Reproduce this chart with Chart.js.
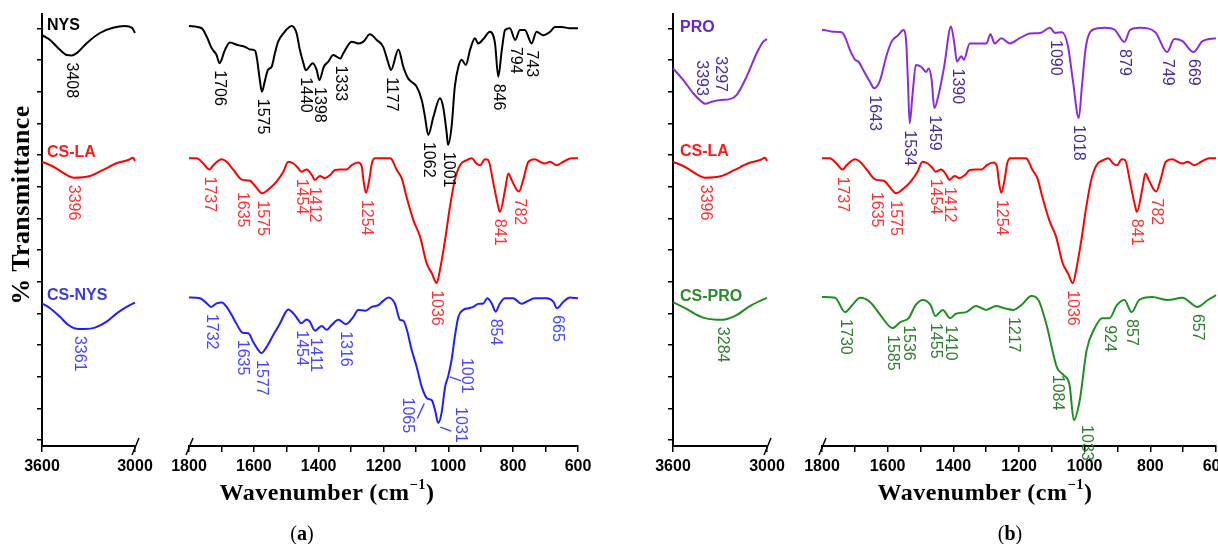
<!DOCTYPE html>
<html>
<head>
<meta charset="utf-8">
<script src="https://cdn.jsdelivr.net/npm/chart.js@4.4.1/dist/chart.umd.min.js"></script>
<style>
body { margin: 0; background: #fff; }
#page { position: relative; width: 1218px; height: 544px; overflow: hidden; font-family: "Liberation Sans", Arial, sans-serif; }
canvas { position: absolute; top: 0; }
.name { position: absolute; font-weight: bold; font-size: 16px; line-height: 1; white-space: nowrap; }
.serif { position: absolute; font-family: "Liberation Serif", "DejaVu Serif", serif; font-weight: bold; white-space: nowrap; line-height: 1; transform: translate(-50%, -50%); }
.serif sup { font-size: 0.6em; position: relative; top: -0.15em; }
</style>
</head>
<body>
<div id="page">
  <canvas id="aL" width="160" height="480" style="left:0px"></canvas>
  <canvas id="aR" width="450" height="480" style="left:160px"></canvas>
  <canvas id="bL" width="160" height="480" style="left:630px"></canvas>
  <canvas id="bR" width="445" height="480" style="left:790px"></canvas>

  <div class="name" style="left:47px;top:17px;color:#000">NYS</div>
  <div class="name" style="left:47px;top:144px;color:#ff1a1a">CS-LA</div>
  <div class="name" style="left:47px;top:287px;color:#3c3cd8">CS-NYS</div>
  <div class="name" style="left:680px;top:19px;color:#6a24c8">PRO</div>
  <div class="name" style="left:680px;top:143px;color:#ff1a1a">CS-LA</div>
  <div class="name" style="left:680px;top:288px;color:#2a8a2a">CS-PRO</div>

  <div class="serif" style="left:21px;top:205px;font-size:26px;letter-spacing:0.4px;transform:translate(-50%,-50%) rotate(-90deg)">% Transmittance</div>
  <div class="serif" style="left:327px;top:491px;font-size:24px;letter-spacing:0.5px">Wavenumber (cm<sup>−1</sup>)</div>
  <div class="serif" style="left:985px;top:491px;font-size:24px;letter-spacing:0.5px">Wavenumber (cm<sup>−1</sup>)</div>
  <div class="serif" style="left:302px;top:533px;font-size:20px;font-weight:normal">(<b>a</b>)</div>
  <div class="serif" style="left:1010px;top:533px;font-size:20px;font-weight:normal">(<b>b</b>)</div>
</div>

<script>
// ---- data: [wavenumber (cm-1), transmittance (a.u., stacked)] ----
const nysHigh = [[3600,95.1],[3548,94.0],[3484,91.7],[3439,90.5],[3408,90.4],[3374,91.0],[3310,93.3],[3226,95.6],[3142,96.8],[3065,97.2],[3019,96.8],[3000,95.6]];
const nysLow = [[1800,97.2],[1761,96.7],[1745,94.7],[1730,92.1],[1715,90.5],[1706,88.6],[1689,91.7],[1674,93.4],[1649,92.8],[1627,92.4],[1612,91.8],[1596,91.5],[1590,89.5],[1582,85.0],[1575,82.0],[1566,84.5],[1557,87.0],[1545,87.8],[1535,90.9],[1525,93.6],[1509,95.5],[1483,97.2],[1468,95.5],[1458,91.7],[1447,88.6],[1440,87.0],[1418,88.6],[1406,87.0],[1398,84.7],[1384,87.8],[1370,89.0],[1355,90.5],[1333,89.7],[1324,90.9],[1298,93.6],[1278,93.2],[1262,93.6],[1242,95.3],[1221,94.0],[1201,92.4],[1185,88.6],[1177,87.0],[1154,91.8],[1139,87.8],[1124,85.1],[1098,83.2],[1082,80.1],[1072,76.2],[1062,72.0],[1046,76.2],[1026,80.5],[1016,78.5],[1005,72.4],[1001,69.7],[990,73.9],[980,83.2],[969,87.8],[959,89.4],[946,88.2],[933,91.7],[918,94.4],[908,93.2],[892,94.2],[872,95.9],[856,93.2],[846,85.5],[835,91.7],[825,96.3],[810,96.7],[794,94.0],[779,96.3],[764,96.3],[743,93.2],[728,95.9],[707,95.1],[686,95.9],[671,97.0],[650,97.0],[625,96.7],[600,96.7]];

const laHigh = [[3600,65.8],[3529,64.7],[3439,62.7],[3396,62.1],[3290,62.5],[3206,63.9],[3116,65.5],[3045,66.2],[3013,66.7],[3000,66.0]];
const laLow = [[1800,66.6],[1776,66.6],[1756,65.4],[1737,64.0],[1725,65.0],[1699,66.4],[1684,65.8],[1663,63.9],[1643,62.0],[1635,61.6],[1612,61.4],[1591,59.7],[1575,58.5],[1550,59.7],[1530,61.2],[1509,63.5],[1494,65.8],[1478,65.4],[1463,64.3],[1454,63.5],[1437,64.0],[1421,62.7],[1412,61.6],[1396,62.5],[1381,62.0],[1365,62.7],[1350,63.9],[1334,64.0],[1314,64.0],[1298,65.0],[1278,65.6],[1267,64.7],[1262,61.6],[1254,58.6],[1244,61.6],[1236,65.4],[1226,66.6],[1180,66.6],[1175,66.4],[1159,63.9],[1144,62.0],[1129,57.7],[1108,52.3],[1087,48.4],[1067,42.3],[1051,40.0],[1036,37.7],[1026,40.7],[1010,47.7],[995,55.4],[980,61.6],[964,65.0],[943,66.2],[928,66.6],[913,65.4],[902,65.0],[887,66.4],[877,66.2],[861,60.8],[846,55.4],[841,54.2],[825,59.3],[815,63.1],[805,61.6],[789,59.3],[782,58.9],[769,61.6],[753,65.8],[733,66.4],[717,65.8],[702,65.4],[686,65.8],[666,65.0],[645,65.8],[620,66.6],[600,66.6]];

const csNysHigh = [[3600,33.0],[3548,31.9],[3484,29.9],[3430,28.0],[3387,27.2],[3361,27.1],[3323,27.1],[3258,27.4],[3183,28.8],[3118,30.7],[3054,32.2],[3000,33.2]];
const csNysLow = [[1800,34.4],[1766,34.2],[1745,33.0],[1732,32.2],[1715,33.0],[1699,33.2],[1684,32.2],[1663,29.6],[1643,26.9],[1635,26.2],[1617,26.1],[1602,24.1],[1586,22.2],[1577,21.5],[1560,23.0],[1540,25.7],[1519,28.4],[1504,30.7],[1494,31.6],[1478,30.7],[1463,29.2],[1454,28.4],[1437,29.3],[1427,28.8],[1417,27.2],[1411,26.7],[1391,27.8],[1375,26.9],[1360,28.0],[1339,29.2],[1316,28.2],[1293,29.9],[1278,31.5],[1257,31.3],[1236,32.2],[1216,32.6],[1201,33.6],[1185,34.4],[1165,33.0],[1149,29.2],[1139,29.0],[1128,26.9],[1113,22.2],[1098,18.4],[1082,13.7],[1065,11.0],[1051,10.6],[1041,8.3],[1031,5.3],[1021,7.6],[1010,13.7],[1001,16.0],[990,19.9],[980,25.3],[969,29.9],[954,31.5],[938,31.9],[923,32.2],[908,32.9],[892,33.0],[880,34.2],[866,33.0],[854,31.1],[841,33.0],[825,34.2],[800,34.2],[774,32.9],[759,33.4],[733,34.2],[697,34.2],[676,33.4],[665,31.9],[645,33.4],[625,34.4],[600,34.2]];

const proHigh = [[3600,87.4],[3534,84.7],[3470,81.6],[3417,79.7],[3393,79.2],[3353,79.7],[3297,80.1],[3236,80.3],[3193,81.3],[3130,85.5],[3066,90.9],[3024,93.6],[3000,94.2]];
const proLow = [[1800,96.3],[1796,96.3],[1766,95.9],[1740,95.8],[1730,94.7],[1715,91.7],[1699,89.4],[1689,89.0],[1674,87.0],[1654,84.3],[1641,82.8],[1623,84.7],[1603,90.5],[1588,93.6],[1568,95.1],[1552,96.3],[1544,94.0],[1538,83.9],[1533,74.7],[1524,81.6],[1514,88.2],[1498,87.8],[1483,86.6],[1475,87.4],[1466,84.7],[1458,78.2],[1444,81.6],[1428,87.8],[1407,97.1],[1397,93.2],[1389,89.0],[1376,90.2],[1368,89.4],[1350,93.2],[1330,93.2],[1299,93.2],[1287,95.3],[1274,93.2],[1254,94.4],[1228,93.2],[1198,94.4],[1166,95.5],[1136,95.6],[1106,96.8],[1090,95.6],[1069,95.8],[1051,92.6],[1036,84.7],[1018,75.9],[1008,83.6],[996,92.6],[977,96.3],[938,96.8],[908,96.3],[879,93.5],[862,96.3],[831,96.8],[785,95.8],[749,91.2],[727,94.2],[702,93.7],[669,91.2],[641,93.7],[600,94.4]];

const csProHigh = [[3600,33.3],[3523,31.9],[3460,30.6],[3396,29.6],[3284,29.2],[3204,30.1],[3109,32.4],[3000,34.3]];
const csProLow = [[1800,34.5],[1760,34.3],[1730,31.0],[1708,32.6],[1684,34.3],[1653,33.3],[1622,30.3],[1585,27.3],[1561,28.7],[1536,29.6],[1515,32.6],[1493,33.8],[1469,32.6],[1455,30.1],[1432,31.5],[1410,29.6],[1392,30.6],[1361,31.0],[1331,32.4],[1300,31.5],[1270,32.4],[1245,31.9],[1217,31.5],[1193,32.6],[1162,34.7],[1141,33.8],[1116,28.0],[1095,21.1],[1084,18.1],[1064,16.4],[1046,14.1],[1033,6.0],[1015,10.6],[994,22.2],[972,26.9],[947,29.6],[924,29.6],[902,32.6],[879,33.8],[857,31.0],[834,33.8],[794,34.5],[748,33.8],[702,34.3],[657,32.2],[625,33.8],[600,34.9]];

// peak labels (cm-1)
const nysHighPeaks = [3408];
const nysLowPeaks = [1706, 1575, 1440, 1398, 1333, 1177, 1062, 1001, 846, 794, 743];
const laHighPeaks = [3396];
const laLowPeaks = [1737, 1635, 1575, 1454, 1412, 1254, 1036, 841, 782];
const csNysHighPeaks = [3361];
const csNysLowPeaks = [1732, 1635, 1577, 1454, 1411, 1316, 1065, 1031, 1001, 854, 665];
const proHighPeaks = [3393, 3297];
const proLowPeaks = [1643, 1534, 1459, 1390, 1090, 1018, 879, 749, 669];
const csProHighPeaks = [3284];
const csProLowPeaks = [1730, 1585, 1536, 1455, 1410, 1217, 1084, 1033, 924, 857, 657];

// left axis minor ticks (no labels)
const yTicks = [1.4, 8.7, 16.1, 23.4, 30.7, 38.1, 45.4, 52.7, 60.0, 67.4, 74.7, 82.0, 89.4, 96.7];

// label placement tweaks (pixels)
const nudges = {
    'la:1635': { dy: 5 },
    'csn:1001': { dx: 18, dy: -26, lead: [2, 0, 13, 4] },
    'csn:1065': { dx: -20, dy: -8, lead: [-3, 5, -10, 20] },
    'csn:1031': { dx: 22, dy: -23, lead: [2, 4, 13, 8] },
    'cspro:1033': { dx: 13, dy: -2 },
    'pro:3393': { up: true, dx: -4 },
    'pro:3297': { up: true }
};

Chart.defaults.font.family = '"Liberation Sans", Arial, sans-serif';

// finds the band a label belongs to: lowest point within 8 cm-1 of the label value
function bandPoint(data, w) {
    const near = data.filter(p => Math.abs(p[0] - w) <= 8);
    if (near.length) return near.reduce((a, b) => b[1] < a[1] ? b : a);
    return data.reduce((a, b) => Math.abs(b[0] - w) < Math.abs(a[0] - w) ? b : a);
}

const peakLabels = {
    id: 'peakLabels',
    afterDatasetsDraw(chart) {
        const { ctx, scales: { x, y } } = chart;
        chart.data.datasets.forEach(ds => {
            ds.peaks.forEach(w => {
                const pt = bandPoint(ds.data, w);
                const nd = nudges[ds.key + ':' + w] || {};
                const cx = x.getPixelForValue(pt[0]);
                const cy = y.getPixelForValue(pt[1]);
                ctx.save();
                ctx.strokeStyle = ds.labelColor;
                ctx.lineWidth = 1.5;
                if (nd.lead) {
                    ctx.beginPath();
                    ctx.moveTo(cx + nd.lead[0], cy + nd.lead[1]);
                    ctx.lineTo(cx + nd.lead[2], cy + nd.lead[3]);
                    ctx.stroke();
                }
                ctx.translate(cx + (nd.dx || 0), cy + (nd.dy || 0));
                ctx.rotate(Math.PI / 2);
                ctx.font = '16px "Liberation Sans", Arial, sans-serif';
                ctx.fillStyle = ds.labelColor;
                ctx.textBaseline = 'middle';
                ctx.textAlign = nd.up ? 'right' : 'left';
                ctx.fillText(String(w), nd.up ? -8 : 7, 0);
                ctx.restore();
            });
        });
    }
};

const breakMark = {
    id: 'breakMark',
    afterDraw(chart, args, opts) {
        const { ctx, chartArea } = chart;
        const bx = opts.side === 'right' ? chartArea.right : chartArea.left;
        const by = chartArea.bottom;
        ctx.save();
        ctx.strokeStyle = '#000';
        ctx.lineWidth = 1.5;
        ctx.beginPath();
        ctx.moveTo(bx + 4, by - 8);
        ctx.lineTo(bx - 3, by + 9);
        ctx.stroke();
        ctx.restore();
    }
};

function series(data, peaks, key, color, labelColor) {
    return {
        data: data,
        peaks: peaks,
        key: key,
        labelColor: labelColor,
        borderColor: color,
        borderWidth: 2,
        pointRadius: 0,
        cubicInterpolationMode: 'monotone',
        clip: false
    };
}

function build(id, pad, range, step, showY, side, datasets) {
    return new Chart(document.getElementById(id), {
        type: 'line',
        data: { datasets: datasets },
        options: {
            responsive: false,
            animation: false,
            events: [],
            layout: { autoPadding: false, padding: { left: pad[0], right: pad[1], top: 14, bottom: 0 } },
            plugins: {
                legend: { display: false },
                tooltip: { enabled: false },
                breakMark: { side: side }
            },
            scales: {
                x: {
                    type: 'linear',
                    reverse: true,
                    min: range[0],
                    max: range[1],
                    afterFit: s => { s.height = 34; },
                    border: { color: '#000', width: 2 },
                    grid: { drawOnChartArea: false, color: '#000', lineWidth: 1.5, tickLength: 6 },
                    ticks: {
                        stepSize: step,
                        autoSkip: false,
                        maxRotation: 0,
                        padding: 5,
                        color: '#000',
                        font: { size: 16, weight: 'bold' },
                        callback: v => v % 200 === 0 ? v : ''
                    }
                },
                y: {
                    display: showY,
                    min: 0,
                    max: 100,
                    afterFit: s => { s.width = showY ? 8 : 0; },
                    afterBuildTicks: s => { s.ticks = yTicks.map(v => ({ value: v })); },
                    border: { color: '#000', width: 2 },
                    grid: { drawOnChartArea: false, color: '#000', lineWidth: 1.5, tickLength: 5 },
                    ticks: { display: false }
                }
            }
        },
        plugins: [peakLabels, breakMark]
    });
}

const RED = '#ff0000', RED_T = '#ff3030';

build('aL', [34, 25], [3000, 3600], 600, true, 'right', [
    series(nysHigh, nysHighPeaks, 'nys', '#000', '#000'),
    series(laHigh, laHighPeaks, 'la', RED, RED_T),
    series(csNysHigh, csNysHighPeaks, 'csn', '#1f1fff', '#4646ff')
]);
build('aR', [29, 32], [600, 1800], 100, false, 'left', [
    series(nysLow, nysLowPeaks, 'nys', '#000', '#000'),
    series(laLow, laLowPeaks, 'la', RED, RED_T),
    series(csNysLow, csNysLowPeaks, 'csn', '#1f1fff', '#4646ff')
]);
build('bL', [35, 23], [3000, 3600], 600, true, 'right', [
    series(proHigh, proHighPeaks, 'pro', '#8a2be2', '#4a2a9a'),
    series(laHigh, laHighPeaks, 'la', RED, RED_T),
    series(csProHigh, csProHighPeaks, 'cspro', '#1f8f1f', '#2e7d2e')
]);
build('bR', [32, 19], [600, 1800], 100, false, 'left', [
    series(proLow, proLowPeaks, 'pro', '#8a2be2', '#4a2a9a'),
    series(laLow, laLowPeaks, 'la', RED, RED_T),
    series(csProLow, csProLowPeaks, 'cspro', '#1f8f1f', '#2e7d2e')
]);
</script>
</body>
</html>
